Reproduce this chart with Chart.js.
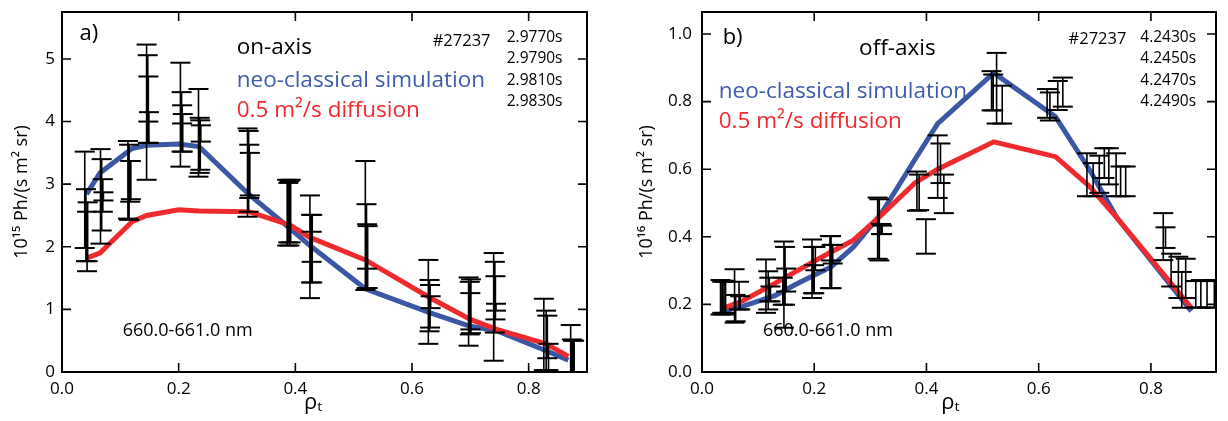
<!DOCTYPE html>
<html>
<head>
<meta charset="utf-8">
<script src="https://cdn.jsdelivr.net/npm/chart.js@4.4.1/dist/chart.umd.min.js"></script>
<style>
    html, body { margin: 0; padding: 0; background: #fff; }
    #wrap { position: relative; width: 1228px; height: 421px; }
    .panel { position: absolute; top: 0; height: 421px; }
    #pa { left: 0; width: 600px; }
    #pb { left: 614px; width: 614px; }
</style>
</head>
<body>
<div id="wrap">
    <div class="panel" id="pa"><canvas id="chartA"></canvas></div>
    <div class="panel" id="pb"><canvas id="chartB"></canvas></div>
</div>
<script>
// ---- panel a) on-axis ----
const rhoSimA = [0.042, 0.065, 0.12, 0.145, 0.2, 0.235, 0.32, 0.39, 0.425, 0.52, 0.63, 0.70, 0.745, 0.83, 0.868];
const neoA    = [2.84, 3.18, 3.57, 3.62, 3.64, 3.60, 2.84, 2.30, 2.02, 1.33, 0.95, 0.73, 0.66, 0.34, 0.19];
const diffA   = [1.82, 1.90, 2.40, 2.50, 2.59, 2.57, 2.56, 2.35, 2.15, 1.79, 1.19, 0.84, 0.68, 0.45, 0.25];

const errXA  = [0.039, 0.041, 0.043, 0.044, 0.066, 0.068, 0.070, 0.071, 0.113, 0.115, 0.117, 0.118,
                0.145, 0.147, 0.148, 0.149, 0.203, 0.205, 0.206, 0.207, 0.234, 0.236, 0.237, 0.238,
                0.318, 0.320, 0.321, 0.322, 0.386, 0.388, 0.390, 0.392, 0.425, 0.427, 0.428, 0.429,
                0.520, 0.522, 0.523, 0.524, 0.628, 0.630, 0.631, 0.632, 0.697, 0.699, 0.700, 0.701,
                0.740, 0.742, 0.743, 0.744, 0.826, 0.830, 0.832, 0.834, 0.872, 0.874, 0.876, 0.878];
const errLoA = [1.98, 1.77, 1.61, 1.77, 2.05, 2.26, 2.56, 2.74, 2.45, 2.43, 2.72, 2.76,
                3.07, 3.66, 4.00, 3.66, 3.28, 3.52, 3.97, 3.52, 3.12, 3.18, 3.23, 3.68,
                2.48, 2.56, 2.78, 2.82, 2.02, 2.07, 2.02, 2.07, 1.18, 1.43, 1.76, 1.43,
                1.31, 1.34, 1.65, 1.34, 0.45, 0.65, 0.71, 1.02, 0.42, 0.60, 0.68, 0.62,
                0.18, 0.63, 0.84, 0.98, 0.03, 0.03, 0.22, 0.03, -0.2, -0.2, -0.2, -0.2];
const errHiA = [3.52, 2.92, 2.56, 2.71, 3.56, 3.40, 3.08, 2.87, 3.69, 3.63, 3.37, 3.37,
                5.23, 5.06, 4.72, 4.15, 4.94, 4.47, 4.26, 4.12, 4.52, 4.06, 4.02, 3.94,
                3.89, 3.85, 3.63, 3.50, 3.07, 3.02, 3.05, 3.07, 2.82, 2.51, 2.24, 2.51,
                3.37, 2.68, 2.36, 2.33, 1.79, 1.47, 1.39, 1.21, 1.51, 1.44, 1.26, 1.48,
                1.90, 1.76, 1.53, 1.09, 1.17, 0.98, 0.90, 0.45, 0.75, 0.52, 0.50, 0.50];

// ---- panel b) off-axis ----
const rhoSimB = [0.04, 0.072, 0.13, 0.17, 0.23, 0.27, 0.32, 0.38, 0.42, 0.52, 0.63, 0.69, 0.74, 0.872];
const neoB    = [0.182, 0.194, 0.226, 0.262, 0.311, 0.37, 0.47, 0.63, 0.735, 0.885, 0.755, 0.60, 0.455, 0.18];
const diffB   = [0.19, 0.21, 0.262, 0.30, 0.355, 0.39, 0.465, 0.56, 0.60, 0.681, 0.637, 0.55, 0.455, 0.19];

const errXB  = [0.033, 0.036, 0.039, 0.042, 0.058, 0.060, 0.066, 0.068, 0.114, 0.118, 0.120, 0.122,
                0.144, 0.146, 0.148, 0.150, 0.196, 0.198, 0.200, 0.202, 0.228, 0.230, 0.231, 0.233,
                0.313, 0.316, 0.319, 0.321, 0.383, 0.387, 0.399, 0.420, 0.425, 0.431,
                0.516, 0.519, 0.525, 0.535, 0.615, 0.620, 0.634, 0.643,
                0.686, 0.697, 0.708, 0.717, 0.725, 0.738, 0.746, 0.755,
                0.822, 0.826, 0.836, 0.849, 0.855, 0.862, 0.880, 0.889, 0.900, 0.913];
const errLoB = [0.170, 0.175, 0.170, 0.175, 0.146, 0.150, 0.185, 0.185, 0.175, 0.185, 0.209, 0.209,
                0.199, 0.131, 0.199, 0.238, 0.219, 0.233, 0.233, 0.301, 0.248, 0.330, 0.248, 0.321,
                0.335, 0.330, 0.408, 0.408, 0.477, 0.479, 0.350, 0.515, 0.559, 0.470,
                0.774, 0.774, 0.735, 0.735, 0.752, 0.744, 0.775, 0.785,
                0.520, 0.520, 0.530, 0.574, 0.555, 0.520, 0.520, 0.520,
                0.331, 0.367, 0.253, 0.219, 0.190, 0.219, 0.191, 0.190, 0.191, 0.190];
const errHiB = [0.272, 0.267, 0.270, 0.267, 0.304, 0.228, 0.267, 0.224, 0.333, 0.298, 0.279, 0.253,
                0.279, 0.386, 0.370, 0.306, 0.392, 0.370, 0.316, 0.370, 0.402, 0.402, 0.376, 0.376,
                0.516, 0.511, 0.438, 0.433, 0.593, 0.584, 0.452, 0.700, 0.676, 0.584,
                0.890, 0.880, 0.944, 0.847, 0.837, 0.827, 0.861, 0.871,
                0.647, 0.618, 0.640, 0.662, 0.662, 0.647, 0.608, 0.608,
                0.470, 0.428, 0.350, 0.341, 0.296, 0.335, 0.269, 0.272, 0.269, 0.272];

const xTicks = [0, 0.2, 0.4, 0.6, 0.8];

const BLUE = '#3b57a6';
const RED = '#ee2a2e';
const FONT = "'Open Sans', 'Noto Sans', 'DejaVu Sans', sans-serif";

Chart.defaults.font.family = FONT;
Chart.defaults.color = '#000';

// pairs of points (low, high) separated by a gap -> one vertical bar each, caps from pointStyle 'line'
function errorPoints(xs, lo, hi) {
    var pts = [];
    xs.forEach(function (x, i) {
        pts.push({x: x, y: lo[i]});
        pts.push({x: x, y: hi[i]});
        pts.push({x: x, y: null});
    });
    return pts;
}

function linePoints(xs, ys) {
    return xs.map(function (x, i) { return {x: x, y: ys[i]}; });
}

// box round the plot with inward ticks on all four sides
const framePlugin = {
    id: 'frame',
    afterDatasetsDraw: function (chart) {
        var ctx = chart.ctx;
        var a = chart.chartArea;
        var sx = chart.scales.x, sy = chart.scales.y;
        var len = 9;
        ctx.save();
        ctx.strokeStyle = '#000';
        ctx.lineWidth = 2;
        ctx.strokeRect(a.left, a.top, a.right - a.left, a.bottom - a.top);
        ctx.lineWidth = 1.6;
        ctx.beginPath();
        sx.ticks.forEach(function (t) {
            var px = sx.getPixelForValue(t.value);
            ctx.moveTo(px, a.bottom); ctx.lineTo(px, a.bottom - len);
            ctx.moveTo(px, a.top); ctx.lineTo(px, a.top + len);
        });
        sy.ticks.forEach(function (t) {
            var py = sy.getPixelForValue(t.value);
            ctx.moveTo(a.left, py); ctx.lineTo(a.left + len, py);
            ctx.moveTo(a.right, py); ctx.lineTo(a.right - len, py);
        });
        ctx.stroke();
        ctx.restore();
    }
};

// text labels placed in data coordinates
const notesPlugin = {
    id: 'notes',
    afterDraw: function (chart, args, options) {
        var ctx = chart.ctx;
        var sx = chart.scales.x, sy = chart.scales.y;
        ctx.save();
        ctx.textAlign = 'left';
        ctx.textBaseline = 'middle';
        (options.items || []).forEach(function (n) {
            ctx.font = n.size + 'px ' + FONT;
            ctx.fillStyle = n.color || '#000';
            ctx.fillText(n.text, sx.getPixelForValue(n.x), sy.getPixelForValue(n.y));
        });
        ctx.restore();
    }
};

function makeChart(canvasId, cfg) {
    return new Chart(document.getElementById(canvasId), {
        type: 'line',
        data: {
            datasets: [
                {
                    data: errorPoints(cfg.errX, cfg.errLo, cfg.errHi),
                    borderColor: '#000',
                    borderWidth: 1.6,
                    pointStyle: 'line',
                    pointRadius: 10,
                    pointBorderWidth: 2,
                    pointBorderColor: '#000',
                    spanGaps: false,
                    order: 0
                },
                {
                    data: linePoints(cfg.rho, cfg.diff),
                    borderColor: RED,
                    borderWidth: 5,
                    pointRadius: 0,
                    tension: 0,
                    order: 1
                },
                {
                    data: linePoints(cfg.rho, cfg.neo),
                    borderColor: BLUE,
                    borderWidth: 5,
                    pointRadius: 0,
                    tension: 0,
                    order: 2
                }
            ]
        },
        options: {
            responsive: true,
            maintainAspectRatio: false,
            animation: false,
            devicePixelRatio: 1,
            layout: { padding: { top: 4, right: cfg.padRight, left: 0, bottom: 0 } },
            plugins: {
                legend: { display: false },
                tooltip: { enabled: false },
                notes: { items: cfg.notes }
            },
            scales: {
                x: {
                    type: 'linear',
                    min: 0,
                    max: cfg.xMax,
                    grid: { display: false, drawTicks: false },
                    border: { display: false },
                    afterBuildTicks: function (scale) {
                        scale.ticks = xTicks.map(function (v) { return {value: v}; });
                    },
                    ticks: {
                        font: { size: 17 },
                        padding: 7,
                        callback: function (v) { return v.toFixed(1); }
                    },
                    title: {
                        display: true,
                        text: cfg.xTitle,
                        font: { size: 22 },
                        padding: { top: 0, bottom: 5 }
                    },
                    afterFit: function (scale) {
                        scale.height = 49;
                        scale.paddingLeft = 0;
                        scale.paddingRight = 0;
                    }
                },
                y: {
                    type: 'linear',
                    min: 0,
                    max: cfg.yMax,
                    grid: { display: false, drawTicks: false },
                    border: { display: false },
                    afterBuildTicks: function (scale) {
                        scale.ticks = cfg.yTicks.map(function (v) { return {value: v}; });
                    },
                    ticks: {
                        font: { size: 17 },
                        padding: cfg.yPad,
                        callback: cfg.yFmt
                    },
                    title: {
                        display: true,
                        text: cfg.yTitle,
                        font: { size: 18 },
                        padding: { top: cfg.yTitlePad, bottom: 0 }
                    },
                    afterFit: function (scale) {
                        scale.width = cfg.yWidth;
                        scale.paddingTop = 0;
                        scale.paddingBottom = 0;
                    }
                }
            }
        },
        plugins: [framePlugin, notesPlugin]
    });
}

makeChart('chartA', {
    rho: rhoSimA, neo: neoA, diff: diffA,
    errX: errXA, errLo: errLoA, errHi: errHiA,
    xMax: 0.9, yMax: 5.75,
    yTicks: [0, 1, 2, 3, 4, 5],
    yFmt: function (v) { return v.toFixed(0); },
    yPad: 7, yWidth: 62, yTitlePad: 11, padRight: 13,
    xTitle: 'ρₜ    ',
    yTitle: '10¹⁵ Ph/(s m² sr)',
    notes: [
        {text: 'a)', x: 0.030, y: 5.40, size: 22},
        {text: 'on-axis', x: 0.2995, y: 5.18, size: 22.5},
        {text: 'neo-classical simulation', x: 0.2995, y: 4.66, size: 22.5, color: '#3f5bab'},
        {text: '0.5 m²/s diffusion', x: 0.2995, y: 4.17, size: 22.5, color: RED},
        {text: '#27237', x: 0.6355, y: 5.29, size: 16.5},
        {text: '2.9770s', x: 0.7624, y: 5.34, size: 15.5},
        {text: '2.9790s', x: 0.7624, y: 5.01, size: 15.5},
        {text: '2.9810s', x: 0.7624, y: 4.66, size: 15.5},
        {text: '2.9830s', x: 0.7624, y: 4.32, size: 15.5},
        {text: '660.0-661.0 nm', x: 0.1041, y: 0.656, size: 18}
    ]
});

makeChart('chartB', {
    rho: rhoSimB, neo: neoB, diff: diffB,
    errX: errXB, errLo: errLoB, errHi: errHiB,
    xMax: 0.916, yMax: 1.065,
    yTicks: [0, 0.2, 0.4, 0.6, 0.8, 1.0],
    yFmt: function (v) { return v.toFixed(1); },
    yPad: 10, yWidth: 88, yTitlePad: 22, padRight: 3,
    xTitle: 'ρₜ   ',
    yTitle: '10¹⁶ Ph/(s m² sr)',
    notes: [
        {text: 'b)', x: 0.0368, y: 0.99, size: 22},
        {text: 'off-axis', x: 0.280, y: 0.9565, size: 22.5},
        {text: 'neo-classical simulation', x: 0.0298, y: 0.8309, size: 22.5, color: '#3f5bab'},
        {text: '0.5 m²/s diffusion', x: 0.0298, y: 0.7404, size: 22.5, color: RED},
        {text: '#27237', x: 0.6532, y: 0.9828, size: 16.5},
        {text: '4.2430s', x: 0.7811, y: 0.9886, size: 15.5},
        {text: '4.2450s', x: 0.7811, y: 0.9273, size: 15.5},
        {text: '4.2470s', x: 0.7811, y: 0.8631, size: 15.5},
        {text: '4.2490s', x: 0.7811, y: 0.7988, size: 15.5},
        {text: '660.0-661.0 nm', x: 0.1086, y: 0.1215, size: 18}
    ]
});
</script>
</body>
</html>
